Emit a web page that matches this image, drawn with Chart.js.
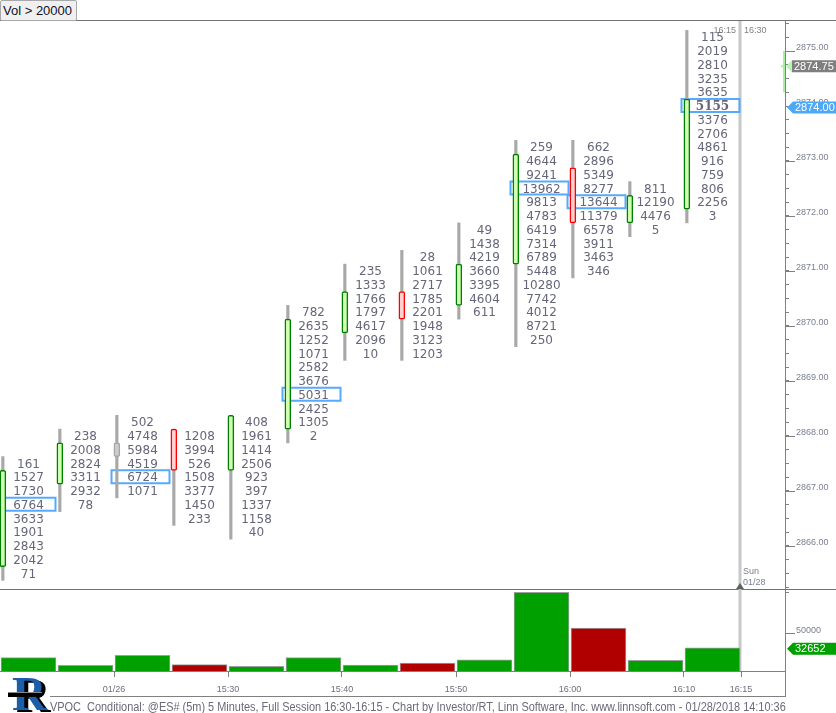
<!DOCTYPE html>
<html>
<head>
<meta charset="utf-8">
<title>VPOC_Conditional @ES# 5 Minutes</title>
<script src="https://cdn.jsdelivr.net/npm/chart.js@4.4.1/dist/chart.umd.min.js"></script>
<style>
  html, body { margin: 0; padding: 0; background: #fff; }
  body { position: relative; width: 836px; height: 713px; overflow: hidden; font-family: "Liberation Sans", Arial, sans-serif; }
  canvas { position: absolute; left: 0; }
  #main { top: 0; }
  #volume { top: 589px; }
  .filter { position: absolute; left: 0; top: 0; width: 73px; height: 19px; padding-left: 2px; background: #f0f0f0; border: 1px solid #a8a8a8; border-radius: 2px; font-size: 13px; line-height: 19px; color: #101028; z-index: 2; }
  .footer { position: absolute; left: 50px; top: 696px; width: 736px; height: 17px; border-top: 1px solid #808080; }
  .footer span { display: inline-block; white-space: nowrap; font-size: 12px; line-height: 13px; padding-bottom: 3px; color: #6a6a7a; transform-origin: 0 0; }
  .logo { position: absolute; left: 8px; top: 672px; width: 40px; height: 41px; }
  .logo .r { position: absolute; left: 4px; top: -6px; font: bold 48px "Liberation Serif", serif; color: #1c5fa8; text-shadow: 4px 2px 0 #000; }
  .logo .band { position: absolute; left: 0; top: 20px; width: 34px; height: 4px; background: #000; border-top: 1px solid #888; }
</style>
</head>
<body>
<div class="filter">Vol &gt; 20000</div>
<canvas id="main" width="836" height="590"></canvas>
<canvas id="volume" width="836" height="108"></canvas>
<div class="logo"><span class="r">R</span><div class="band"></div></div>
<div class="footer"><span>VPOC_Conditional: @ES# (5m) 5 Minutes, Full Session 16:30-16:15 - Chart by Investor/RT, Linn Software, Inc. www.linnsoft.com - 01/28/2018 14:10:36</span></div>

<script>
// 5 minute bars, session ends 16:15
var barTimes = ['15:10', '15:15', '15:20', '15:25', '15:30', '15:35', '15:40', '15:45', '15:50', '15:55', '16:00', '16:05', '16:10'];
var opens  = [2865.75, 2867.25, 2867.75, 2868.00, 2867.50, 2868.25, 2870.00, 2870.50, 2870.50, 2871.25, 2872.75, 2872.00, 2872.25];
var highs  = [2867.50, 2868.00, 2868.25, 2868.00, 2868.25, 2870.25, 2871.00, 2871.25, 2871.75, 2873.25, 2873.25, 2872.50, 2875.25];
var lows   = [2865.50, 2866.75, 2867.00, 2866.50, 2866.25, 2868.00, 2869.50, 2869.50, 2870.25, 2869.75, 2871.00, 2871.75, 2872.00];
var closes = [2867.25, 2867.75, 2867.75, 2867.50, 2868.25, 2870.00, 2870.50, 2870.25, 2871.00, 2873.00, 2872.00, 2872.25, 2874.00];

// volume at price, from the high of the bar downwards
var fp1510 = [161, 1527, 1730, 6764, 3633, 1901, 2843, 2042, 71];
var fp1515 = [238, 2008, 2824, 3311, 2932, 78];
var fp1520 = [502, 4748, 5984, 4519, 6724, 1071];
var fp1525 = [1208, 3994, 526, 1508, 3377, 1450, 233];
var fp1530 = [408, 1961, 1414, 2506, 923, 397, 1337, 1158, 40];
var fp1535 = [782, 2635, 1252, 1071, 2582, 3676, 5031, 2425, 1305, 2];
var fp1540 = [235, 1333, 1766, 1797, 4617, 2096, 10];
var fp1545 = [28, 1061, 2717, 1785, 2201, 1948, 3123, 1203];
var fp1550 = [49, 1438, 4219, 3660, 3395, 4604, 611];
var fp1555 = [259, 4644, 9241, 13962, 9813, 4783, 6419, 7314, 6789, 5448, 10280, 7742, 4012, 8721, 250];
var fp1600 = [662, 2896, 5349, 8277, 13644, 11379, 6578, 3911, 3463, 346];
var fp1605 = [811, 12190, 4476, 5];
var fp1610 = [115, 2019, 2810, 3235, 3635, 5155, 3376, 2706, 4861, 916, 759, 806, 2256, 3];
var ladders = [fp1510, fp1515, fp1520, fp1525, fp1530, fp1535, fp1540, fp1545, fp1550, fp1555, fp1600, fp1605, fp1610];

var volumes = [20672, 11391, 23548, 12296, 10144, 20761, 11854, 14066, 17976, 99677, 56505, 17482, 32652];

var timeTicks = ['15:20', '15:30', '15:40', '15:50', '16:00', '16:10', '16:15'];
var timeTickLabels = ['01/26', '15:30', '15:40', '15:50', '16:00', '16:10', '16:15'];
var volTicks = [50000, 100000];

var tick = 0.25;
var vpocMinVol = 20000;
var lastPrice = 2874.00;
var markPrice = 2874.75;
var markRange = [2874.25, 2875.00];
var sessionEnd = '16:15', nextSession = '16:30', nextDay = ['Sun', '01/28'];

// view
var slotsVisible = 785 / 57;
var priceMin = 2865.218, priceMax = 2875.5455;
var volMin = 4550, volMax = 102500;
var candleShift = 0.05;

var priceTicks = [];
for (var k = 1; 2865 + k * tick <= 2875.5; k++) priceTicks.push(2865 + k * tick);

function slotOf(t) {
    var p = t.split(':'), b = barTimes[0].split(':');
    return ((+p[0]) * 60 + (+p[1]) - (+b[0]) * 60 - (+b[1])) / 5;
}
function trend(i) {
    return closes[i] > opens[i] ? 'up' : (closes[i] < opens[i] ? 'down' : 'flat');
}

var bodyFill = {up: '#d2ffb4', down: '#ffd2d2', flat: '#cdcdcd'};
var bodyLine = {up: '#008000', down: '#ff0000', flat: '#a6a6a6'};
var axisFont = {family: 'Liberation Sans', size: 9};

function line(ctx, x1, y1, x2, y2) {
    ctx.beginPath(); ctx.moveTo(x1, y1); ctx.lineTo(x2, y2); ctx.stroke();
}

function tag(ctx, tipX, cy, color, text, noseColor) {
    var h = 12, nose = 6;
    ctx.fillStyle = noseColor || color;
    ctx.beginPath();
    ctx.moveTo(tipX, cy);
    ctx.lineTo(tipX + nose, cy - h / 2);
    ctx.lineTo(tipX + nose, cy + h / 2);
    ctx.closePath();
    ctx.fill();
    ctx.fillStyle = color;
    ctx.fillRect(tipX + nose, cy - h / 2, 836 - tipX - nose, h);
    ctx.fillStyle = '#fff';
    ctx.font = '11px "Liberation Sans"';
    ctx.textAlign = 'left';
    ctx.textBaseline = 'middle';
    ctx.fillText(text, tipX + nose + 2, cy + 0.5);
}

// Footprint: vpoc boxes, numbers, markers
var footprint = {
    id: 'footprint',
    beforeDatasetsDraw: function (chart) {
        var ctx = chart.ctx, a = chart.chartArea, x = chart.scales.x, y = chart.scales.y;
        ctx.save();
        ctx.strokeStyle = '#c8c8c8';
        ctx.lineWidth = 3;
        var sx = x.getPixelForValue(slotOf(sessionEnd)) - 1;
        line(ctx, sx, a.top, sx, a.bottom);

        ctx.strokeStyle = '#55aaff';
        ctx.lineWidth = 2;
        ladders.forEach(function (rows, i) {
            if (volumes[i] <= vpocMinVol) return;
            var k = rows.indexOf(Math.max.apply(null, rows));
            var py = y.getPixelForValue(highs[i] - k * tick);
            var x1 = x.getPixelForValue(i) - 2.5, x2 = x.getPixelForValue(i + 1) - 1.5;
            ctx.strokeRect(x1, py - 7, x2 - x1, 13);
        });
        ctx.restore();
    },
    afterDatasetsDraw: function (chart) {
        var ctx = chart.ctx, x = chart.scales.x, y = chart.scales.y;
        var last = ladders.length - 1;
        ctx.save();
        ctx.fillStyle = '#66667a';
        ctx.textAlign = 'center';
        ctx.textBaseline = 'middle';
        ladders.forEach(function (rows, i) {
            var vpoc = rows.indexOf(Math.max.apply(null, rows));
            var cx = x.getPixelForValue(i + 0.5);
            rows.forEach(function (v, k) {
                var bold = i === last && k === vpoc;
                ctx.font = bold ? 'bold 12px "DejaVu Serif"' : '12px "DejaVu Sans"';
                ctx.fillText(String(v), cx, y.getPixelForValue(highs[i] - k * tick) + 1);
            });
        });
        ctx.restore();
    },
    afterDraw: function (chart) {
        var ctx = chart.ctx, a = chart.chartArea, x = chart.scales.x, y = chart.scales.y;
        ctx.save();
        ctx.strokeStyle = '#707070';
        ctx.lineWidth = 1;
        line(ctx, 0, a.top - 0.5, 836, a.top - 0.5);
        line(ctx, 0, a.bottom + 0.5, 836, a.bottom + 0.5);

        // longer marks for whole points
        ctx.strokeStyle = '#808080';
        priceTicks.forEach(function (p) {
            if (!Number.isInteger(p)) return;
            var py = Math.round(y.getPixelForValue(p)) + 0.5;
            line(ctx, a.right, py, a.right + 10, py);
        });

        // session labels
        var sx = x.getPixelForValue(slotOf(sessionEnd)) - 1;
        ctx.fillStyle = '#80808a';
        ctx.font = '9px "Liberation Sans"';
        ctx.textBaseline = 'middle';
        ctx.textAlign = 'right';
        ctx.fillText(sessionEnd, sx - 4, a.top + 10);
        ctx.textAlign = 'left';
        ctx.fillText(nextSession, sx + 4, a.top + 10);
        ctx.fillStyle = '#7a8090';
        ctx.fillText(nextDay[0], sx + 3, a.bottom - 17);
        ctx.fillText(nextDay[1], sx + 3, a.bottom - 6);
        ctx.fillStyle = '#606060';
        ctx.beginPath();
        ctx.moveTo(sx, a.bottom - 6);
        ctx.lineTo(sx - 4, a.bottom);
        ctx.lineTo(sx + 4, a.bottom);
        ctx.closePath();
        ctx.fill();

        // price markers
        ctx.strokeStyle = '#a8f0a0';
        ctx.lineWidth = 2;
        line(ctx, a.right - 1, y.getPixelForValue(markRange[1]), a.right - 1, y.getPixelForValue(markRange[0]));
        var my = y.getPixelForValue(markPrice) + 1.5;
        line(ctx, a.right - 4, my, a.right, my);
        tag(ctx, a.right + 1, my, '#7f7f7f', markPrice.toFixed(2), '#b8f5b0');
        tag(ctx, a.right + 2, y.getPixelForValue(lastPrice) + 1.5, '#4ea8f8', lastPrice.toFixed(2));
        ctx.restore();
    }
};

var volumeMarks = {
    id: 'volumeMarks',
    beforeDatasetsDraw: function (chart) {
        var ctx = chart.ctx, a = chart.chartArea, x = chart.scales.x;
        ctx.save();
        ctx.strokeStyle = '#c8c8c8';
        ctx.lineWidth = 3;
        var sx = x.getPixelForValue(slotOf(sessionEnd)) - 1;
        line(ctx, sx, 0, sx, a.bottom);
        ctx.restore();
    },
    afterDraw: function (chart) {
        var ctx = chart.ctx, a = chart.chartArea, y = chart.scales.y;
        ctx.save();
        ctx.strokeStyle = '#808080';
        ctx.lineWidth = 1;
        line(ctx, a.right + 0.5, a.bottom, a.right + 0.5, chart.height);
        var py = Math.round(y.getPixelForValue(volTicks[0])) + 0.5;
        line(ctx, a.right, py, a.right + 10, py);
        var last = volumes.length - 1;
        tag(ctx, a.right + 2, y.getPixelForValue(volumes[last]) + 1, '#00a000', String(volumes[last]));
        ctx.restore();
    }
};

new Chart(document.getElementById('main'), {
    type: 'bar',
    data: {
        datasets: [{
            label: 'body',
            data: barTimes.map(function (t, i) {
                return {x: i + candleShift, y: [Math.min(opens[i], closes[i]) - tick / 2, Math.max(opens[i], closes[i]) + tick / 2]};
            }),
            backgroundColor: barTimes.map(function (t, i) { return bodyFill[trend(i)]; }),
            borderColor: barTimes.map(function (t, i) { return bodyLine[trend(i)]; }),
            borderWidth: 1.5,
            borderRadius: 2,
            borderSkipped: false,
            barThickness: 6,
            grouped: false,
            order: 1
        }, {
            label: 'wick',
            data: barTimes.map(function (t, i) {
                return {x: i + candleShift, y: [lows[i] - tick / 2, highs[i] + tick / 2]};
            }),
            backgroundColor: '#a8a8a8',
            borderWidth: 0,
            barThickness: 2.5,
            grouped: false,
            order: 2
        }]
    },
    options: {
        responsive: false,
        animation: false,
        layout: {padding: {top: 21, bottom: 1, left: 0, right: 0}},
        plugins: {legend: {display: false}, tooltip: {enabled: false}},
        scales: {
            x: {type: 'linear', display: false, offset: false, min: 0, max: slotsVisible},
            y: {
                position: 'right',
                min: priceMin,
                max: priceMax,
                afterBuildTicks: function (s) { s.ticks = priceTicks.map(function (v) { return {value: v}; }); },
                afterFit: function (s) { s.width = 51; s.paddingTop = 0; s.paddingBottom = 0; },
                ticks: {
                    autoSkip: false,
                    padding: 7,
                    labelOffset: -3,
                    color: '#7a7f92',
                    font: axisFont,
                    callback: function (v) { return Number.isInteger(v) ? v.toFixed(2) : ''; }
                },
                grid: {drawOnChartArea: false, tickLength: 4, color: '#808080'},
                border: {color: '#808080'}
            }
        }
    },
    plugins: [footprint]
});

new Chart(document.getElementById('volume'), {
    type: 'bar',
    data: {
        datasets: [{
            label: 'volume',
            data: volumes.map(function (v, i) { return {x: i + 0.5, y: v}; }),
            backgroundColor: volumes.map(function (v, i) { return closes[i] >= opens[i] ? '#00a000' : '#b00000'; }),
            borderColor: '#a0a0a0',
            borderWidth: 1,
            borderSkipped: false,
            barThickness: 55,
            clip: 0
        }]
    },
    options: {
        responsive: false,
        animation: false,
        layout: {padding: {top: 1, bottom: 0, left: 0, right: 0}},
        plugins: {legend: {display: false}, tooltip: {enabled: false}},
        scales: {
            x: {
                type: 'linear',
                offset: false,
                min: 0,
                max: slotsVisible,
                afterBuildTicks: function (s) { s.ticks = timeTicks.map(function (t) { return {value: slotOf(t)}; }); },
                afterFit: function (s) { s.height = 26; s.paddingLeft = 0; s.paddingRight = 0; },
                ticks: {
                    autoSkip: false,
                    maxRotation: 0,
                    padding: 7,
                    color: '#6e6e7e',
                    font: axisFont,
                    callback: function (v, i) { return timeTickLabels[i]; }
                },
                grid: {drawOnChartArea: false, offset: false, tickLength: 6, color: '#808080'},
                border: {color: '#808080'}
            },
            y: {
                position: 'right',
                min: volMin,
                max: volMax,
                afterBuildTicks: function (s) { s.ticks = volTicks.map(function (v) { return {value: v}; }); },
                afterFit: function (s) { s.width = 51; s.paddingTop = 0; s.paddingBottom = 0; },
                ticks: {
                    autoSkip: false,
                    padding: 7,
                    labelOffset: -3,
                    color: '#7a7f92',
                    font: axisFont,
                    callback: function (v, i) { return i === 0 ? String(v) : ''; }
                },
                grid: {drawOnChartArea: false, tickLength: 4, color: '#808080'},
                border: {color: '#808080'}
            }
        }
    },
    plugins: [volumeMarks]
});

// squeeze the caption to the width of the plot
var foot = document.querySelector('.footer span');
foot.style.transform = 'scaleX(' + (736 / foot.offsetWidth) + ')';
</script>
</body>
</html>
